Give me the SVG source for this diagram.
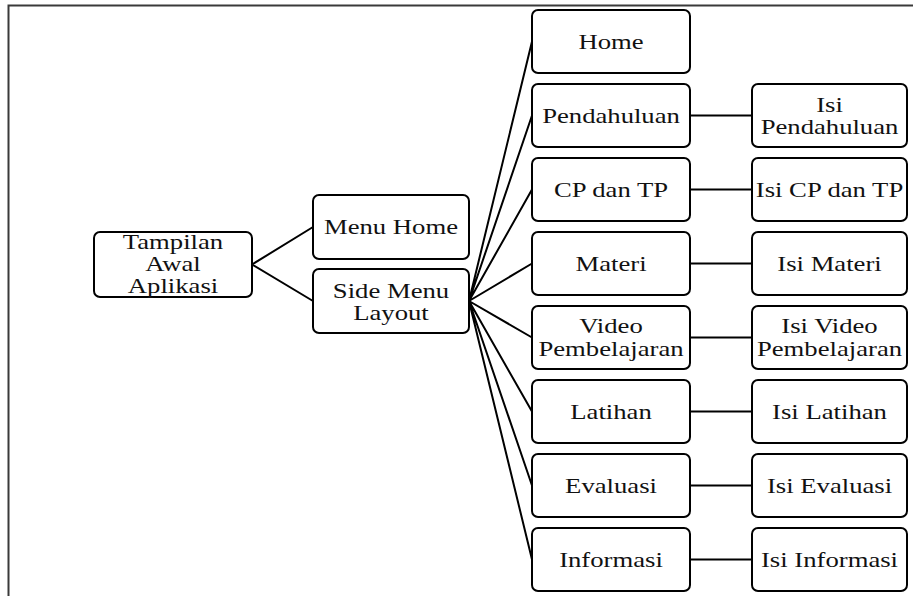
<svg xmlns="http://www.w3.org/2000/svg" width="913" height="596" viewBox="0 0 913 596">
<style>
.box{fill:#fff;stroke:#000;stroke-width:2}
.t{font-family:"Liberation Serif","Times New Roman",serif;font-size:21px;fill:#111;text-anchor:middle}
.c{stroke:#000;stroke-width:2;fill:none}
.frame{stroke:#3a3a3a;stroke-width:2;fill:none}
</style>
<rect width="913" height="596" fill="#fff"/>
<path class="frame" d="M8.5,596 V5.5 H913"/>
<g id="connectors">
<path class="c" d="M252,264.5 L313,227 M252,264.5 L313,301"/>
<path class="c" d="M469,301 L532,41.5 M469,301 L532,115.5 M469,301 L532,189.5 M469,301 L532,263.5 M469,301 L532,337.5 M469,301 L532,411.5 M469,301 L532,485.5 M469,301 L532,559.5"/>
<path class="c" d="M690,115.5 H752 M690,189.5 H752 M690,263.5 H752 M690,337.5 H752 M690,411.5 H752 M690,485.5 H752 M690,559.5 H752"/>
</g>
<g id="tampilan"><rect class="box" x="94" y="232" width="158" height="65" rx="6"/>
<text class="t" transform="translate(173,248.5) scale(1.27,1)">Tampilan</text>
<text class="t" transform="translate(173,270.5) scale(1.27,1)">Awal</text>
<text class="t" transform="translate(173,292.5) scale(1.27,1)">Aplikasi</text></g>
<g id="menuhome"><rect class="box" x="313" y="195" width="156" height="64" rx="6"/>
<text class="t" transform="translate(391,234) scale(1.27,1)">Menu Home</text></g>
<g id="sidemenu"><rect class="box" x="313" y="269" width="156" height="64" rx="6"/>
<text class="t" transform="translate(391,297.5) scale(1.27,1)">Side Menu</text>
<text class="t" transform="translate(391,319.5) scale(1.27,1)">Layout</text></g>
<g id="home"><rect class="box" x="532" y="10" width="158" height="63" rx="6"/>
<text class="t" transform="translate(611,49) scale(1.27,1)">Home</text></g>
<g id="pendahuluan"><rect class="box" x="532" y="84" width="158" height="63" rx="6"/>
<text class="t" transform="translate(611,123) scale(1.27,1)">Pendahuluan</text></g>
<g id="cptp"><rect class="box" x="532" y="158" width="158" height="63" rx="6"/>
<text class="t" transform="translate(611,197) scale(1.27,1)">CP dan TP</text></g>
<g id="materi"><rect class="box" x="532" y="232" width="158" height="63" rx="6"/>
<text class="t" transform="translate(611,271) scale(1.27,1)">Materi</text></g>
<g id="video"><rect class="box" x="532" y="306" width="158" height="63" rx="6"/>
<text class="t" transform="translate(611,333) scale(1.27,1)">Video</text>
<text class="t" transform="translate(611,355.5) scale(1.27,1)">Pembelajaran</text></g>
<g id="latihan"><rect class="box" x="532" y="380" width="158" height="63" rx="6"/>
<text class="t" transform="translate(611,419) scale(1.27,1)">Latihan</text></g>
<g id="evaluasi"><rect class="box" x="532" y="454" width="158" height="63" rx="6"/>
<text class="t" transform="translate(611,493) scale(1.27,1)">Evaluasi</text></g>
<g id="informasi"><rect class="box" x="532" y="528" width="158" height="63" rx="6"/>
<text class="t" transform="translate(611,567) scale(1.27,1)">Informasi</text></g>
<g id="isipendahuluan"><rect class="box" x="752" y="84" width="155" height="63" rx="6"/>
<text class="t" transform="translate(829.5,111.5) scale(1.27,1)">Isi</text>
<text class="t" transform="translate(829.5,133.5) scale(1.27,1)">Pendahuluan</text></g>
<g id="isicptp"><rect class="box" x="752" y="158" width="155" height="63" rx="6"/>
<text class="t" transform="translate(829.5,197) scale(1.27,1)">Isi CP dan TP</text></g>
<g id="isimateri"><rect class="box" x="752" y="232" width="155" height="63" rx="6"/>
<text class="t" transform="translate(829.5,271) scale(1.27,1)">Isi Materi</text></g>
<g id="isivideo"><rect class="box" x="752" y="306" width="155" height="63" rx="6"/>
<text class="t" transform="translate(829.5,333) scale(1.27,1)">Isi Video</text>
<text class="t" transform="translate(829.5,355.5) scale(1.27,1)">Pembelajaran</text></g>
<g id="isilatihan"><rect class="box" x="752" y="380" width="155" height="63" rx="6"/>
<text class="t" transform="translate(829.5,419) scale(1.27,1)">Isi Latihan</text></g>
<g id="isievaluasi"><rect class="box" x="752" y="454" width="155" height="63" rx="6"/>
<text class="t" transform="translate(829.5,493) scale(1.27,1)">Isi Evaluasi</text></g>
<g id="isiinformasi"><rect class="box" x="752" y="528" width="155" height="63" rx="6"/>
<text class="t" transform="translate(829.5,567) scale(1.27,1)">Isi Informasi</text></g>
</svg>
